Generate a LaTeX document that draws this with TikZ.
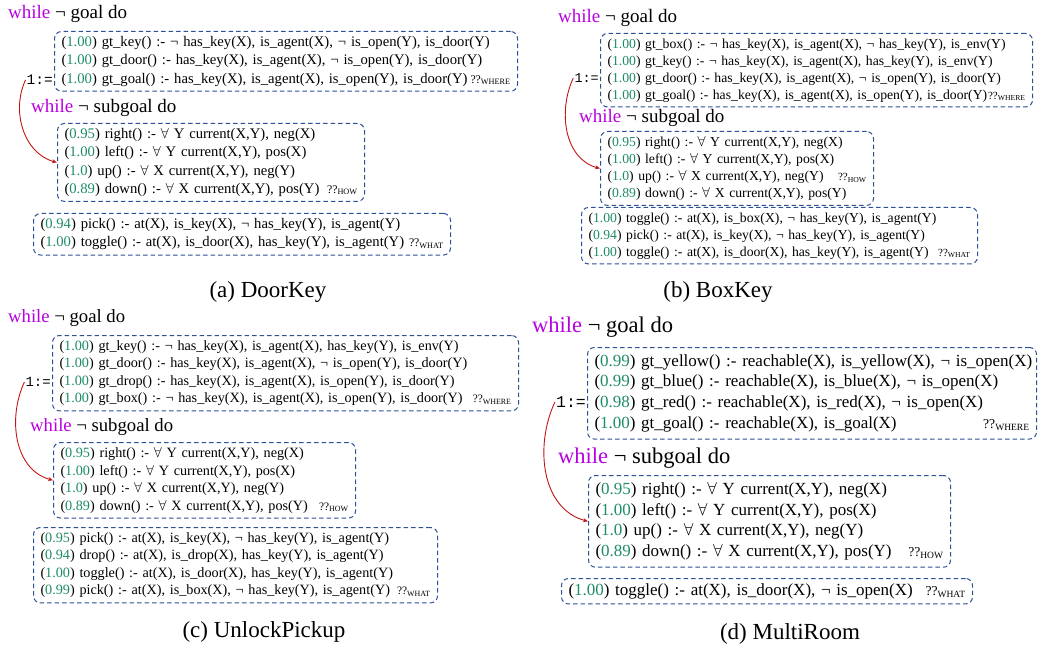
\documentclass[tikz,border=0pt]{standalone}
\usepackage{fontspec}
\setmainfont{Liberation Serif}
\setmonofont{Liberation Mono}
\usetikzlibrary{arrows.meta,positioning}

\definecolor{kwpurple}{RGB}{185,0,225}
\definecolor{scoregreen}{RGB}{30,140,100}
\definecolor{boxblue}{RGB}{45,80,150}
\definecolor{loopred}{RGB}{195,20,20}

% one rule line: (score) head :- body
\newcommand{\rl}[2]{\mbox{(\textcolor{scoregreen}{#1}) #2}}
\newcommand{\qtag}[1]{\nobreak\hfill\scalebox{0.8}{??\textsubscript{#1}}}
\newcommand{\whilegoal}{\textcolor{kwpurple}{while} ¬ goal do}
\newcommand{\whilesub}{\textcolor{kwpurple}{while} ¬ subgoal do}
\newcommand{\fa}{$\forall$}

\tikzset{
  rulebox/.style={draw=boxblue, line width=1pt, dash pattern=on 4.5pt off 3pt,
    rounded corners=7pt, align=left, anchor=north west, inner xsep=7pt, inner ysep=5pt},
  heading/.style={anchor=west, inner sep=0pt},
  assign/.style={anchor=east, inner sep=1pt},
  loop/.style={-{Stealth[length=5pt,width=4pt]}, draw=loopred, line width=0.9pt},
  caption/.style={font=\fontsize{23}{26}\selectfont},
}

\begin{document}
\begin{tikzpicture}[x=1pt,y=1pt]
\useasboundingbox (0,0) rectangle (1038,-652);

% (a) DoorKey
\begin{scope}[rulebox/.append style={font=\fontsize{14.65}{18.2}\selectfont},
              heading/.append style={font=\fontsize{19}{22}\selectfont},
              assign/.append style={font=\ttfamily\fontsize{14.5}{16}\selectfont}]
  \node[heading] (goalA) at (8,-14) {\whilegoal};
  \node[rulebox, text width=449pt] (whereA) at (54,-31) {%
    \rl{1.00}{gt\_key() :- ¬ has\_key(X), is\_agent(X), ¬ is\_open(Y), is\_door(Y)}\\
    \rl{1.00}{gt\_door() :- has\_key(X), is\_agent(X), ¬ is\_open(Y), is\_door(Y)}\\
    \rl{1.00}{gt\_goal() :- has\_key(X), is\_agent(X), is\_open(Y), is\_door(Y)}\qtag{WHERE}};
  \node[assign] (lA) at (54,-80) {1:=};
  \node[heading] (subA) at (31,-108) {\whilesub};
  \node[rulebox, text width=293pt] (howA) at (57,-123) {%
    \rl{0.95}{right() :- \fa{} Y current(X,Y), neg(X)}\\
    \rl{1.00}{left() :- \fa{} Y current(X,Y), pos(X)}\\
    \rl{1.0}{up() :- \fa{} X current(X,Y), neg(Y)}\\
    \rl{0.89}{down() :- \fa{} X current(X,Y), pos(Y)}\qtag{HOW}};
  \node[rulebox, text width=403pt] (whatA) at (33,-213) {%
    \rl{0.94}{pick() :- at(X), is\_key(X), ¬ has\_key(Y), is\_agent(Y)}\\
    \rl{1.00}{toggle() :- at(X), is\_door(X), has\_key(Y), is\_agent(Y)}\qtag{WHAT}};
  \draw[loop] (lA.west) to[out=245,in=165] (howA.west);
  \node[caption] (capA) at (268,-292) {(a) DoorKey};
\end{scope}

% (b) BoxKey
\begin{scope}[rulebox/.append style={font=\fontsize{13.7}{17}\selectfont},
              heading/.append style={font=\fontsize{19}{22}\selectfont},
              assign/.append style={font=\ttfamily\fontsize{13.5}{16}\selectfont}]
  \node[heading] (goalB) at (558,-18) {\whilegoal};
  \node[rulebox, text width=418pt] (whereB) at (600,-33) {%
    \rl{1.00}{gt\_box() :- ¬ has\_key(X), is\_agent(X), ¬ has\_key(Y), is\_env(Y)}\\
    \rl{1.00}{gt\_key() :- ¬ has\_key(X), is\_agent(X), has\_key(Y), is\_env(Y)}\\
    \rl{1.00}{gt\_door() :- has\_key(X), is\_agent(X), ¬ is\_open(Y), is\_door(Y)}\\
    \rl{1.00}{gt\_goal() :- has\_key(X), is\_agent(X), is\_open(Y), is\_door(Y)}\qtag{WHERE}};
  \node[assign] (lB) at (600,-78) {1:=};
  \node[heading] (subB) at (579,-118) {\whilesub};
  \node[rulebox, text width=259pt] (howB) at (600,-131) {%
    \rl{0.95}{right() :- \fa{} Y current(X,Y), neg(X)}\\
    \rl{1.00}{left() :- \fa{} Y current(X,Y), pos(X)}\\
    \rl{1.0}{up() :- \fa{} X current(X,Y), neg(Y)}\qtag{HOW}\\
    \rl{0.89}{down() :- \fa{} X current(X,Y), pos(Y)}};
  \node[rulebox, text width=382pt] (whatB) at (581,-207) {%
    \rl{1.00}{toggle() :- at(X), is\_box(X), ¬ has\_key(Y), is\_agent(Y)}\\
    \rl{0.94}{pick() :- at(X), is\_key(X), ¬ has\_key(Y), is\_agent(Y)}\\
    \rl{1.00}{toggle() :- at(X), is\_door(X), has\_key(Y), is\_agent(Y)}\qtag{WHAT}};
  \draw[loop] (lB.west) to[out=245,in=165] (howB.west);
  \node[caption] (capB) at (718,-292) {(b) BoxKey};
\end{scope}

% (c) UnlockPickup
\begin{scope}[rulebox/.append style={font=\fontsize{14.2}{17.5}\selectfont},
              heading/.append style={font=\fontsize{18.7}{22}\selectfont},
              assign/.append style={font=\ttfamily\fontsize{14}{16}\selectfont}]
  \node[heading] (goalC) at (8,-318) {\whilegoal};
  \node[rulebox, text width=452pt] (whereC) at (52,-335) {%
    \rl{1.00}{gt\_key() :- ¬ has\_key(X), is\_agent(X), has\_key(Y), is\_env(Y)}\\
    \rl{1.00}{gt\_door() :- has\_key(X), is\_agent(X), ¬ is\_open(Y), is\_door(Y)}\\
    \rl{1.00}{gt\_drop() :- has\_key(X), is\_agent(X), is\_open(Y), is\_door(Y)}\\
    \rl{1.00}{gt\_box() :- ¬ has\_key(X), is\_agent(X), is\_open(Y), is\_door(Y)}\qtag{WHERE}};
  \node[assign] (lC) at (52,-382) {1:=};
  \node[heading] (subC) at (30,-427) {\whilesub};
  \node[rulebox, text width=288pt] (howC) at (53,-442) {%
    \rl{0.95}{right() :- \fa{} Y current(X,Y), neg(X)}\\
    \rl{1.00}{left() :- \fa{} Y current(X,Y), pos(X)}\\
    \rl{1.0}{up() :- \fa{} X current(X,Y), neg(Y)}\\
    \rl{0.89}{down() :- \fa{} X current(X,Y), pos(Y)}\qtag{HOW}};
  \node[rulebox, text width=390pt] (whatC) at (33,-527) {%
    \rl{0.95}{pick() :- at(X), is\_key(X), ¬ has\_key(Y), is\_agent(Y)}\\
    \rl{0.94}{drop() :- at(X), is\_drop(X), has\_key(Y), is\_agent(Y)}\\
    \rl{1.00}{toggle() :- at(X), is\_door(X), has\_key(Y), is\_agent(Y)}\\
    \rl{0.99}{pick() :- at(X), is\_box(X), ¬ has\_key(Y), is\_agent(Y)}\qtag{WHAT}};
  \draw[loop] (lC.west) to[out=245,in=165] (howC.west);
  \node[caption] (capC) at (264,-632) {(c) UnlockPickup};
\end{scope}

% (d) MultiRoom
\begin{scope}[rulebox/.append style={font=\fontsize{17}{20.7}\selectfont, inner ysep=7pt},
              heading/.append style={font=\fontsize{22.5}{26}\selectfont},
              assign/.append style={font=\ttfamily\fontsize{16.5}{18}\selectfont}]
  \node[heading] (goalD) at (532,-327) {\whilegoal};
  \node[rulebox, text width=435pt] (whereD) at (587,-347) {%
    \rl{0.99}{gt\_yellow() :- reachable(X), is\_yellow(X), ¬ is\_open(X)}\\
    \rl{0.99}{gt\_blue() :- reachable(X), is\_blue(X), ¬ is\_open(X)}\\
    \rl{0.98}{gt\_red() :- reachable(X), is\_red(X), ¬ is\_open(X)}\\
    \rl{1.00}{gt\_goal() :- reachable(X), is\_goal(X)}\qtag{WHERE}};
  \node[assign] (lD) at (587,-402) {1:=};
  \node[heading] (subD) at (558,-458) {\whilesub};
  \node[rulebox, text width=348pt] (howD) at (588,-475) {%
    \rl{0.95}{right() :- \fa{} Y current(X,Y), neg(X)}\\
    \rl{1.00}{left() :- \fa{} Y current(X,Y), pos(X)}\\
    \rl{1.0}{up() :- \fa{} X current(X,Y), neg(Y)}\\
    \rl{0.89}{down() :- \fa{} X current(X,Y), pos(Y)}\qtag{HOW}};
  \node[rulebox, text width=397pt, inner ysep=5pt] (whatD) at (561,-578) {%
    \rl{1.00}{toggle() :- at(X), is\_door(X), ¬ is\_open(X)}\qtag{WHAT}};
  \draw[loop] (lD.west) to[out=245,in=165] (howD.west);
  \node[caption] (capD) at (790,-634) {(d) MultiRoom};
\end{scope}

\end{tikzpicture}
\end{document}
